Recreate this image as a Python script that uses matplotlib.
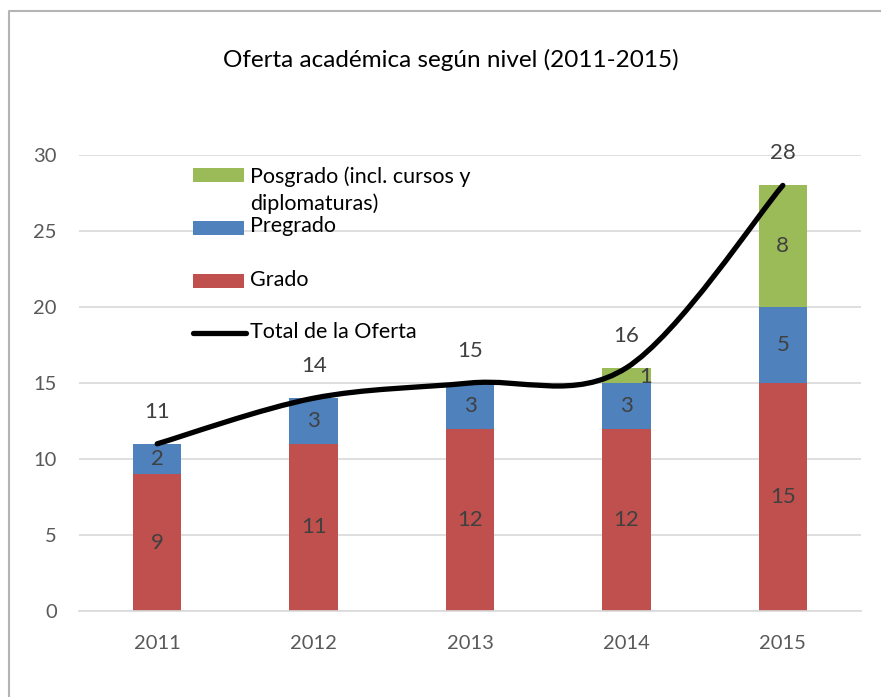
import matplotlib

matplotlib.use("Agg")

import matplotlib.pyplot as plt
import numpy as np
from matplotlib.patches import PathPatch, Rectangle
from matplotlib.lines import Line2D
from matplotlib.path import Path

# Datos de la oferta académica por nivel
YEARS = ["2011", "2012", "2013", "2014", "2015"]
GRADO = [9, 11, 12, 12, 15]
PREGRADO = [2, 3, 3, 3, 5]
POSGRADO = [0, 0, 0, 1, 8]
TOTAL = [11, 14, 15, 16, 28]

TITLE = "Oferta académica según nivel (2011-2015)"
LEGEND_LABELS = ["Posgrado (incl. cursos y\ndiplomaturas)", "Pregrado", "Grado", "Total de la Oferta"]

# Estilo
W, H = 881, 697
DPI = 100
FONT = ["Lato", "DejaVu Sans"]
C_GRADO = "#C0504D"
C_PREGRADO = "#4F81BD"
C_POSGRADO = "#9BBB59"
TEXT_COLOR = "#404040"
TICK_COLOR = "#595959"
GRID_COLOR = "#D9D9D9"
BAR_WIDTH = 0.31
LABEL_SIZE = 16
TOTAL_LABEL_OFFSET = 2.1

plt.rcParams["font.family"] = FONT


def smooth_path(xs, ys):
    # Curva suavizada tipo Excel (Bezier cúbica con tangentes de Catmull-Rom)
    pts = np.column_stack([xs, ys]).astype(float)
    ext = np.vstack([pts[0], pts, pts[-1]])
    verts = [pts[0]]
    codes = [Path.MOVETO]
    for i in range(len(pts) - 1):
        p0, p1, p2, p3 = ext[i], ext[i + 1], ext[i + 2], ext[i + 3]
        c1 = p1 + (p2 - p0) / 6.0
        c2 = p2 - (p3 - p1) / 6.0
        verts.extend([c1, c2, p2])
        codes.extend([Path.CURVE4] * 3)
    return Path(verts, codes)


def fx(px):
    return px / W


def fy(py):
    return 1 - py / H


fig = plt.figure(figsize=(W / DPI, H / DPI), dpi=DPI)
ax = fig.add_axes([fx(79), fy(611), fx(861) - fx(79), fy(155) - fy(611)])

x = np.arange(len(YEARS))
grado = np.array(GRADO)
pregrado = np.array(PREGRADO)
posgrado = np.array(POSGRADO)

ax.bar(x, grado, BAR_WIDTH, color=C_GRADO, zorder=2)
ax.bar(x, pregrado, BAR_WIDTH, bottom=grado, color=C_PREGRADO, zorder=2)
ax.bar(x, posgrado, BAR_WIDTH, bottom=grado + pregrado, color=C_POSGRADO, zorder=2)

ax.add_patch(PathPatch(smooth_path(x, TOTAL), facecolor="none", edgecolor="black",
                       linewidth=3.8, capstyle="round", joinstyle="round", zorder=3))

# Etiquetas de segmentos y totales
for i in range(len(YEARS)):
    ax.text(x[i], grado[i] / 2, str(grado[i]), ha="center", va="center",
            fontsize=LABEL_SIZE, color=TEXT_COLOR, zorder=4)
    ax.text(x[i], grado[i] + pregrado[i] / 2, str(pregrado[i]), ha="center", va="center",
            fontsize=LABEL_SIZE, color=TEXT_COLOR, zorder=4)
    if posgrado[i] > 1:
        ax.text(x[i], grado[i] + pregrado[i] + posgrado[i] / 2, str(posgrado[i]),
                ha="center", va="center", fontsize=LABEL_SIZE, color=TEXT_COLOR, zorder=4)
    elif posgrado[i] == 1:
        ax.text(x[i] + 0.12, grado[i] + pregrado[i] + 0.4, str(posgrado[i]),
                ha="center", va="center", fontsize=LABEL_SIZE, color=TEXT_COLOR, zorder=4)
    ax.text(x[i], TOTAL[i] + TOTAL_LABEL_OFFSET, str(TOTAL[i]), ha="center", va="center",
            fontsize=LABEL_SIZE, color=TEXT_COLOR, zorder=4)

ax.set_xlim(-0.5, len(YEARS) - 0.5)
ax.set_ylim(0, 30)
ax.set_yticks(np.arange(0, 31, 5))
ax.set_xticks(x)
ax.set_xticklabels(YEARS)
ax.yaxis.grid(True, color=GRID_COLOR, linewidth=1.2, zorder=0)
ax.set_axisbelow(True)
for side in ["top", "right", "left"]:
    ax.spines[side].set_visible(False)
ax.spines["bottom"].set_color(GRID_COLOR)
ax.spines["bottom"].set_linewidth(1.2)
ax.tick_params(axis="both", length=0, labelsize=14.5, colors=TICK_COLOR)
ax.tick_params(axis="x", pad=17)
ax.tick_params(axis="y", pad=16)

fig.text(fx(451), fy(60), TITLE, ha="center", va="center", fontsize=17.5, color="black")

# Leyenda manual
legend_rows = [
    (C_POSGRADO, 175, LEGEND_LABELS[0], 190),
    (C_PREGRADO, 228, LEGEND_LABELS[1], 226),
    (C_GRADO, 281, LEGEND_LABELS[2], 280),
]
for color, py, label, ty in legend_rows:
    fig.patches.append(Rectangle((fx(193), fy(py + 7)), fx(244) - fx(193), fy(py - 7) - fy(py + 7),
                                 transform=fig.transFigure, facecolor=color, edgecolor="none"))
    fig.text(fx(250), fy(ty), label, ha="left", va="center", fontsize=15.5, color="black",
             linespacing=1.42)
fig.lines.append(Line2D([fx(193), fx(246)], [fy(333), fy(333)], transform=fig.transFigure,
                        color="black", linewidth=3.8, solid_capstyle="round"))
fig.text(fx(250), fy(332), LEGEND_LABELS[3], ha="left", va="center", fontsize=15.5, color="black")

# Borde gris del área del gráfico
fig.lines.append(Line2D([fx(9), fx(9), fx(881)], [0, fy(11), fy(11)], transform=fig.transFigure,
                        color="#B4B4B4", linewidth=1.5))

fig.savefig("out.png", dpi=DPI, facecolor="white")
